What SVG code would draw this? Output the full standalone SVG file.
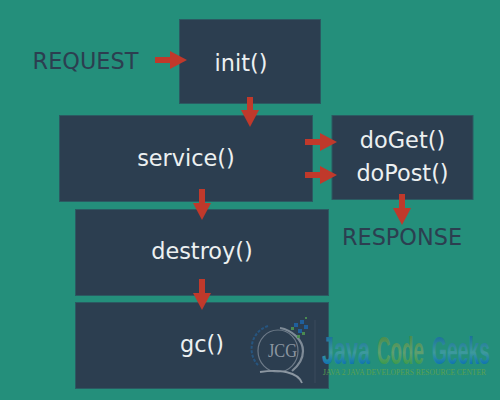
<svg xmlns="http://www.w3.org/2000/svg" width="500" height="400" viewBox="0 0 500 400">
<style>
.box{fill:#2c3e50;stroke:#2b5a62;stroke-width:1}
.w{font-family:"DejaVu Sans",sans-serif;font-size:22.400px;fill:#ecf0f1;text-anchor:middle}
.d{font-family:"DejaVu Sans",sans-serif;font-size:22.400px;fill:#2c3e50;text-anchor:middle}
.a{stroke:#c0392b;stroke-width:6;fill:none;marker-end:url(#h)}
.logo{font-family:"Liberation Sans",sans-serif;font-weight:bold;font-size:39px}
</style>
<defs>
<marker id="h" markerUnits="userSpaceOnUse" markerWidth="18" markerHeight="18" refX="0" refY="9" orient="auto"><path d="M0 0L17 9L0 18Z" fill="#c0392b"/></marker>
<linearGradient id="jb" x1="0" y1="0" x2="0" y2="1"><stop offset="0.15" stop-color="#1a6f9c"/><stop offset="0.55" stop-color="#3d9a9c"/><stop offset="0.8" stop-color="#1276b0"/></linearGradient>
<linearGradient id="jg" x1="0" y1="0" x2="0" y2="1"><stop offset="0.15" stop-color="#4a8c4a"/><stop offset="0.55" stop-color="#5f9f70"/><stop offset="0.8" stop-color="#3f9a50"/></linearGradient>
</defs>
<rect width="500" height="400" fill="#248f7b"/>
<g id="request"><text class="d" x="85.500" y="69">REQUEST</text></g>
<g id="init"><rect class="box" x="179.500" y="19.500" width="141" height="84"/><text class="w" x="241" y="71">init()</text></g>
<g id="service"><rect class="box" x="59.500" y="115.500" width="253" height="86"/><text class="w" x="186" y="166">service()</text></g>
<g id="methods"><rect class="box" x="332" y="115.500" width="141" height="84"/><text class="w" x="402.500" y="148">doGet()</text><text class="w" x="402.500" y="181">doPost()</text></g>
<g id="destroy"><rect class="box" x="75.500" y="209.500" width="253" height="86"/><text class="w" x="202" y="259">destroy()</text></g>
<g id="gc"><rect class="box" x="75.500" y="302.500" width="253" height="86"/><text class="w" x="202" y="352">gc()</text></g>
<g id="response"><text class="d" x="402" y="245">RESPONSE</text></g>
<g id="connectors">
<path class="a" d="M155 60H170"/>
<path class="a" d="M250 97V110"/>
<path class="a" d="M305 142H320"/>
<path class="a" d="M305 175H320"/>
<path class="a" d="M402 194V208"/>
<path class="a" d="M202 189V203"/>
<path class="a" d="M202 279V293"/>
</g>
<g id="logo">
<g fill="none">
<path d="M268 326C250 332 247 354 258 365" stroke="#27557f" stroke-width="2" stroke-dasharray="3 1.500"/>
<ellipse cx="278" cy="351" rx="20" ry="21" stroke="#6d7a88" stroke-width="1.200"/>
<path d="M280 328C292 330 303 340 303 351C303 360 298 366 292 371" stroke="#7f8b97" stroke-width="2.200"/>
<path d="M260 372C280 369 298 372 302 383" stroke="#8c97a2" stroke-width="1.800"/>
<path d="M315 320V383" stroke="#3a4a5c" stroke-width="1"/>
</g>
<text x="282.500" y="357" font-family="'Liberation Serif',serif" font-size="19" fill="#8c97a2" text-anchor="middle" textLength="29" lengthAdjust="spacingAndGlyphs">JCG</text>
<g fill="#1f5f9c">
<rect x="294" y="323" width="4" height="4"/><rect x="300" y="320" width="4" height="4"/><rect x="304" y="325" width="4" height="4"/><rect x="298" y="329" width="4" height="4"/>
</g>
<g fill="#4a8a50">
<rect x="305" y="317" width="2" height="2"/><rect x="291" y="327" width="3" height="3"/><rect x="297" y="335" width="3" height="3"/><rect x="302" y="332" width="3" height="3"/>
</g>
<text class="logo" x="322" y="364" textLength="48" lengthAdjust="spacingAndGlyphs" fill="url(#jb)">Java</text>
<text class="logo" x="377" y="364" textLength="47" lengthAdjust="spacingAndGlyphs" fill="url(#jg)">Code</text>
<text class="logo" x="432" y="364" textLength="58" lengthAdjust="spacingAndGlyphs" fill="url(#jb)">Geeks</text>
<text x="323" y="375" font-family="'Liberation Serif',serif" font-size="8.500" textLength="163" lengthAdjust="spacingAndGlyphs" fill="#5aa050">JAVA 2 JAVA DEVELOPERS RESOURCE CENTER</text>
</g>
</svg>
